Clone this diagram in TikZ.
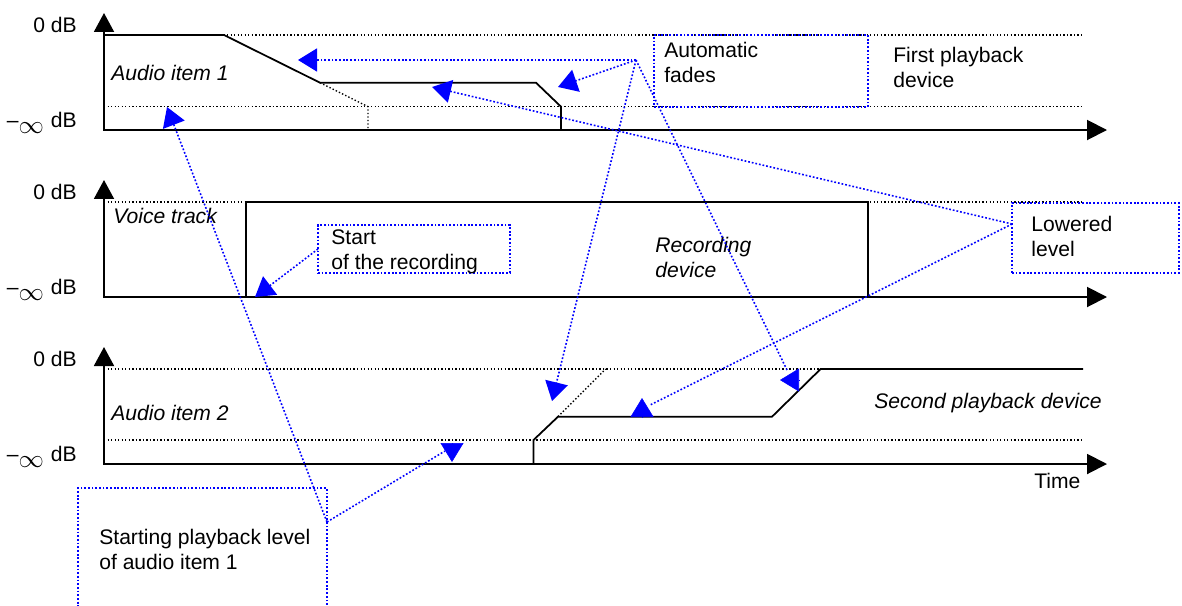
\documentclass[tikz,border=0pt]{standalone}
\usepackage{fontspec}
\setmainfont{Liberation Sans}
\usepackage{xcolor}
\usepackage{tikz}
\usetikzlibrary{arrows.meta,positioning,calc}
\definecolor{callout}{HTML}{0000FF}
\newcommand{\trackfont}{\fontsize{12}{13.7}\selectfont}
\tikzset{
  vaxis/.style={arrows={Triangle[length=0.38cm,width=0.4cm]-Triangle[length=0.4cm,width=0.4cm]},line width=1.1pt,draw=black},
  vsig/.style={line width=1pt,draw=black},
  vlevel/.style={line width=0.8pt,draw=black,dash pattern=on 0.8pt off 1.2pt},
  vcall/.style={draw=callout,line width=0.9pt,dash pattern=on 1pt off 1.1pt},
  varr/.style={vcall,-{Triangle[length=0.38cm,width=0.46cm]}},
  vhead/.style={draw=callout,line width=0.3pt,-{Triangle[length=0.38cm,width=0.46cm]}},
  vnote/.style={vcall,inner sep=0pt,outer sep=0pt,anchor=north west},
  vtxt/.style={inner sep=0pt,anchor=base west,align=left},
  vital/.style={vtxt,font=\trackfont\itshape},
  vlab/.style={inner sep=0pt,anchor=base east}
}
\begin{document}
\begin{tikzpicture}[x=0.02cm,y=-0.02cm,font=\trackfont]
  \useasboundingbox (0,0) rectangle (1182,605);
  \clip (0,0) rectangle (1182,605);
  % axes, 0 dB levels and labels of the three tracks
  \foreach \n/\yb in {1/130,2/297,3/464}{
    \draw[vlevel] (104,\yb-95) -- (1083,\yb-95);
    \draw[vaxis] (104,\yb-117) -- (104,\yb) -- (1107,\yb);
    \node[vlab] (zero\n) at (77,\yb-98) {0 dB};
    \node[vlab] (minf\n) at (77,\yb-3) {\textendash\raisebox{-3.5pt}{\fontsize{15}{15}\selectfont$\infty$}\hspace{4pt}dB};
  }
  \draw[vlevel] (104,106.7) -- (1083,106.7);
  \draw[vlevel] (104,440) -- (1083,440);
  % levels
  \draw[vsig] (104,35) -- (224,35) -- (320,82.7) -- (536,82.7) -- (561,106.7) -- (561,130);
  \draw[vlevel] (320,82.7) -- (368,106.7) -- (368,130);
  \draw[vsig] (246,297) -- (246,202) -- (868,202) -- (868,297);
  \draw[vsig] (533.5,464) -- (533.5,440) -- (558,416.7) -- (772,416.7) -- (820.6,369) -- (1083,369);
  \draw[vlevel] (558,416.7) -- (605.7,369);
  % texts
  \node[vital] (audio1) at (111,80) {Audio item 1};
  \node[vital] (voice) at (113,223) {Voice track};
  \node[vital] (audio2) at (111,420) {Audio item 2};
  \node[vtxt] (dev1) at (893,87) {First playback\\device};
  \node[vital] (dev2) at (655,277) {Recording\\device};
  \node[vital] (dev3) at (874,408) {Second playback device};
  \node[vtxt] (time) at (1034,488) {Time};
  % callout boxes
  \node[vnote,minimum width=4.28cm,minimum height=1.44cm] (fadesbox) at (654,35) {};
  \node[vnote,minimum width=3.34cm,minimum height=1.4cm] (lowbox) at (1012,203) {};
  \node[vnote,minimum width=3.84cm,minimum height=0.96cm] (startbox) at (318,225) {};
  \node[vnote,minimum width=4.98cm,minimum height=2.6cm] (levelbox) at (78,488) {};
  \node[vtxt] (fadestxt) at (664,82) {Automatic\\fades};
  \node[vtxt] (lowtxt) at (1031,256) {Lowered\\level};
  \node[vtxt] (starttxt) at (331,269) {Start\\of the recording};
  \node[vtxt] (leveltxt) at (99,569) {Starting playback level\\of audio item 1};
  % callout lines
  \coordinate (fa) at (636,60);
  \coordinate (lw) at ($(lowbox.north west)+(0,21)$);
  \coordinate (sp) at ($(levelbox.north east)+(0,34)$);
  \coordinate (fadeout1) at (298,60);
  \coordinate (fadeend1) at (558,87);
  \coordinate (fadein2) at (552,401);
  \coordinate (fadeup2) at (780,380);
  \coordinate (low1) at (432,87);
  \coordinate (low2) at (642,398);
  \coordinate (start1) at (167,107);
  \coordinate (start2) at (452,462);
  \coordinate (rec) at (255,297);
  \draw[varr] (fa) -- (fadeout1);
  \draw[varr] (fa) -- (fadeend1);
  \draw[varr] (fa) -- (fadein2);
  \draw[vcall] (fa) -- ($(fadeup2)+(7,-10)$);
  \draw[vhead] ($(fadeup2)+(19,0)$) -- (fadeup2);
  \draw[varr] (lw) -- (low1);
  \draw[vcall] (lw) -- ($(low2)+(8,7)$);
  \draw[vhead] ($(low2)+(0,19)$) -- (low2);
  \draw[varr] (sp) -- (start1);
  \draw[vcall] (sp) -- ($(start2)+(-7,-11)$);
  \draw[vhead] ($(start2)+(0,-19)$) -- (start2);
  \draw[varr] (startbox.west) -- (rec);
\end{tikzpicture}
\end{document}
